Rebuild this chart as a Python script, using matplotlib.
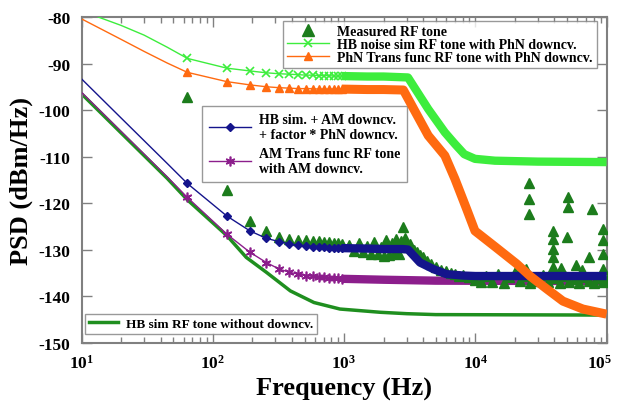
import math
import matplotlib
matplotlib.use('Agg')
import matplotlib.pyplot as plt
from matplotlib.lines import Line2D
from matplotlib.ticker import FuncFormatter, NullLocator, FixedLocator

plt.rcParams['font.family'] = 'Liberation Serif'
plt.rcParams['font.weight'] = 'bold'
plt.rcParams['mathtext.fontset'] = 'custom'
plt.rcParams['mathtext.rm'] = 'Liberation Serif:bold'
plt.rcParams['mathtext.bf'] = 'Liberation Serif:bold'
plt.rcParams['axes.unicode_minus'] = False

# HB noise sim RF tone with PhN downcv. (lime)
lime_f = [13.4, 20, 30, 45, 64, 128, 192, 256, 320, 384, 448, 512, 576, 640, 704, 768, 832, 896, 960,
          1500, 2000, 3070, 4380, 5860, 6990, 8240, 9940, 14100, 30000, 100000]
lime_db = [-80.0, -81.8, -83.9, -86.5, -88.9, -91.0, -91.6, -92.0, -92.2, -92.3, -92.4, -92.5, -92.5, -92.6,
           -92.6, -92.6, -92.7, -92.7, -92.7, -92.8, -92.8, -93.0, -99.8, -104.8, -107.3, -109.5, -110.5,
           -110.9, -111.1, -111.2]

# PhN Trans func RF tone with PhN downcv. (orange)
orng_f = [10, 20, 30, 45, 64, 128, 192, 256, 320, 384, 448, 512, 576, 640, 704, 768, 832, 896, 960,
          1500, 2000, 2830, 4380, 5860, 6990, 8590, 9940, 14300, 20700, 26100, 35100, 46500, 66000, 100000]
orng_db = [-80.4, -84.8, -87.4, -89.9, -91.9, -93.9, -94.6, -95.0, -95.2, -95.3, -95.4, -95.4, -95.4, -95.5,
           -95.5, -95.5, -95.5, -95.5, -95.5, -95.6, -95.6, -95.7, -105.5, -109.8, -114.8, -121.3, -126.0,
           -129.5, -133.1, -135.7, -138.5, -141.1, -142.8, -143.9]

# HB sim. + AM downcv. + factor * PhN downcv. (navy)
blue_f = [10, 20, 30, 45, 64, 128, 192, 256, 320, 384, 448, 512, 576, 640, 704, 768, 832, 896, 960,
          1500, 2000, 2800, 3070, 3790, 4780, 6040, 8100, 10000, 100000]
blue_db = [-93.3, -101.7, -106.6, -111.5, -115.8, -122.8, -126.0, -127.6, -128.3, -128.8, -129.1, -129.3,
           -129.4, -129.5, -129.5, -129.6, -129.6, -129.7, -129.7, -129.8, -129.9, -129.9, -130.0, -132.8,
           -134.2, -135.3, -135.6, -135.7, -135.7]

# AM Trans func RF tone with AM downcv. (purple)
purp_f = [10, 20, 30, 45, 64, 128, 192, 256, 320, 384, 448, 512, 576, 640, 704, 768, 832, 896, 960,
          2000, 5000, 100000]
purp_db = [-96.2, -104.6, -109.5, -114.4, -118.8, -126.7, -130.6, -132.8, -134.2, -134.9, -135.3, -135.6,
           -135.8, -135.9, -136.0, -136.1, -136.2, -136.2, -136.3, -136.5, -136.7, -136.8]

# HB sim RF tone without downcv. (dark green)
hb_f = [10, 20, 30, 45, 64, 128, 180, 256, 390, 590, 930, 1890, 3000, 5000, 100000]
hb_db = [-96.5, -104.9, -109.8, -114.7, -119.3, -127.0, -131.7, -134.9, -138.9, -141.4, -142.8, -143.5,
         -143.8, -144.0, -144.1]

# Measured RF tone
meas_f = [64, 128, 192, 256, 320, 384, 448, 512, 576, 640, 704, 768, 832, 896, 960,
          1100, 1200, 1300, 1400, 1500, 1600, 1700, 1800, 1900, 2000, 2100, 2200, 2300, 2400, 2500,
          2600, 2700, 2800, 2900, 3000, 3200, 3400, 3600, 3800, 4000, 4300, 4600, 5000, 5500, 6000,
          6500, 7000, 7500, 8000, 9000, 10000, 11000, 12000, 13500, 15000, 16500, 18000, 20000, 22000,
          24000, 26000, 28000, 30000, 33000, 36000, 40000, 44000, 48000, 52000, 57000, 62000, 68000,
          74000, 80000, 87000, 94000, 100000]
meas_db = [-97.1, -117.3, -123.8, -126.0, -127.4, -127.7, -127.9, -128.0, -128.1, -128.2, -128.3, -128.4,
           -128.5, -128.6, -128.8, -129.0, -130.4, -128.7, -130.6, -129.3, -130.9, -128.3, -131.0, -129.4,
           -131.3, -128.0, -131.2, -128.6, -130.8, -127.8, -131.0, -128.2, -125.2, -127.6, -129.4, -128.8,
           -130.0, -130.5, -131.1, -131.7, -132.5, -133.1, -133.8, -134.3, -134.7, -135.0, -135.2, -135.6,
           -135.4, -136.0, -136.6, -137.0, -135.8, -136.9, -135.2, -137.1, -136.0, -134.9, -136.8, -135.6,
           -137.2, -135.9, -136.7, -135.4, -137.0, -136.2, -137.3, -135.8, -136.9, -136.3, -137.2, -135.9,
           -136.8, -137.3, -136.1, -137.0, -136.6]
spk_f = [22000, 24500, 25700, 25700, 25700, 38800, 38800, 38800, 38800, 38800, 45000, 50000, 51000,
         51000, 59000, 65000, 74000, 77000, 94000, 94000, 94000, 94000]
spk_db = [-134.6, -134.2, -115.6, -119.1, -122.4, -126.0, -127.7, -129.9, -131.7, -133.8, -134.0, -127.4,
          -118.8, -120.9, -133.4, -134.3, -131.7, -121.3, -125.6, -128.0, -131.0, -134.2]

c_meas = '#1c7c1c'
c_lime = '#3ded3d'
c_orng = '#ff6a10'
c_blue = '#14148c'
c_purp = '#8c1e8c'
c_hb = '#1f8f1f'


def sim_curve(ax, f, db, color, marker, ms, mew, band_lw, z):
    # thin line with markers where the sim points are sparse, thick band where they pile up
    start = f.index(64)
    band = f.index(960)
    ax.plot(f[:band + 1], db[:band + 1], color=color, lw=1.0, marker=marker, ms=ms, mew=mew,
            markevery=list(range(start, band + 1)), zorder=z)
    ax.plot(f[band:], db[band:], color=color, lw=band_lw, solid_capstyle='butt',
            solid_joinstyle='round', zorder=z)


def xfmt(v, pos):
    e = round(math.log10(v))
    if e >= 5:
        return ''  # drawn separately so it stays inside the figure
    return r'$\mathbf{10^{%d}}$' % e


fig = plt.figure(figsize=(6.17, 4.02), dpi=100)
ax = fig.add_axes([0.1321, 0.1455, 0.851, 0.8097])

ax.plot(hb_f, hb_db, color=c_hb, lw=2.5, zorder=2)
sim_curve(ax, purp_f, purp_db, c_purp, (6, 2, 0), 7, 1.2, 6, 3)
ax.plot(meas_f, meas_db, ls='none', marker='^', ms=7, color=c_meas, zorder=3.5)
ax.plot(spk_f, spk_db, ls='none', marker='^', ms=7, color=c_meas, zorder=3.5)
sim_curve(ax, blue_f, blue_db, c_blue, 'D', 4.5, 1, 6, 4)
sim_curve(ax, lime_f, lime_db, c_lime, 'x', 6, 1.2, 6, 5)
sim_curve(ax, orng_f, orng_db, c_orng, '^', 6, 1, 6.5, 6)

ax.set_xscale('log')
ax.set_xlim(10, 1e5)
ax.set_ylim(-150, -80)
ax.yaxis.set_major_locator(FixedLocator(list(range(-150, -79, 10))))
ax.yaxis.set_minor_locator(NullLocator())
ax.xaxis.set_major_formatter(FuncFormatter(xfmt))
ax.annotate(r'$\mathbf{10^{5}}$', xy=(1, 0), xycoords='axes fraction', xytext=(4, -8),
            textcoords='offset points', ha='right', va='top', fontsize=12.5)

for s in ax.spines.values():
    s.set_color('#808080')
    s.set_linewidth(1.5)
ax.tick_params(which='both', direction='in', top=True, right=True, color='#808080')
ax.tick_params(which='major', length=7, width=1, labelsize=12.5, pad=8)
ax.tick_params(which='minor', length=4, width=1)

ax.set_xlabel('Frequency (Hz)', fontsize=19, fontweight='bold', labelpad=4)
ax.set_ylabel('PSD (dBm/Hz)', fontsize=19, fontweight='bold', labelpad=4)

# legends
leg_kw = dict(frameon=True, fancybox=False, borderaxespad=0, handletextpad=0.6)
h1 = [Line2D([], [], ls='none', marker='^', ms=9, color=c_meas),
      Line2D([], [], color=c_lime, lw=1, marker='x', ms=6, mew=1.2),
      Line2D([], [], color=c_orng, lw=1, marker='^', ms=6)]
l1 = ax.legend(h1, ['Measured RF tone', 'HB noise sim RF tone with PhN downcv.',
                    'PhN Trans func RF tone with PhN downcv.'],
               loc='upper right', bbox_to_anchor=(0.982, 0.988), labelspacing=0.0, borderpad=0.3,
               handlelength=3, prop={'size': 10, 'weight': 'bold'}, **leg_kw)
h2 = [Line2D([], [], color=c_blue, lw=1, marker='D', ms=4.5),
      Line2D([], [], color=c_purp, lw=1, marker=(6, 2, 0), ms=7, mew=1.2)]
l2 = ax.legend(h2, ['HB sim. + AM downcv.\n+ factor * PhN downcv.', 'AM Trans func RF tone\nwith AM downcv.'],
               loc='upper left', bbox_to_anchor=(0.2295, 0.7266), labelspacing=0.45, borderpad=0.5,
               handlelength=3, prop={'size': 10, 'weight': 'bold'}, **leg_kw)
h3 = [Line2D([], [], color=c_hb, lw=2.5)]
l3 = ax.legend(h3, ['HB sim RF tone without downcv.'], loc='lower left',
               bbox_to_anchor=(0.0067, 0.026), borderpad=0.3, handlelength=2.2,
               prop={'size': 9.5, 'weight': 'bold'}, **leg_kw)
for lg in (l1, l2, l3):
    lg.get_frame().set_edgecolor('#808080')
    lg.get_frame().set_linewidth(1)
ax.add_artist(l1)
ax.add_artist(l2)

fig.savefig('out.png', dpi=100)
